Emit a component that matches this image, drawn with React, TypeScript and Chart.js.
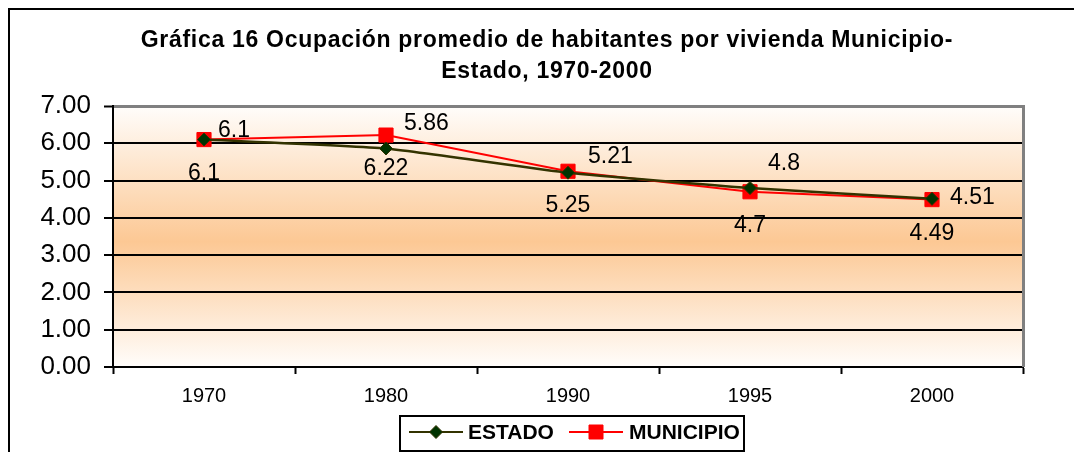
import React, { useEffect, useRef } from 'react';
import { Chart, registerables } from 'chart.js';

Chart.register(...registerables);

const categories = ['1970', '1980', '1990', '1995', '2000'];
const estado = [6.1, 5.86, 5.21, 4.8, 4.51];
const municipio = [6.1, 6.22, 5.25, 4.7, 4.49];
const seriesNames = ['ESTADO', 'MUNICIPIO'];
const yMin = 0;
const yMax = 7;
const yStep = 1;
const titleLines = [
  'Gráfica 16 Ocupación promedio de habitantes por vivienda Municipio-',
  'Estado, 1970-2000',
];

// label placement (pixel offsets relative to each point)
const estadoLabelOffsets = [
  [14, -9],
  [18, -25],
  [20, -16],
  [18, -24],
  [18, -1],
];
const municipioLabelDy = 34;

const FONT = "'Liberation Sans', Arial, sans-serif";
const W = 1074;
const H = 452;

const bgPlugin = {
  id: 'bgGradient',
  beforeDraw(chart: any) {
    const { ctx, chartArea } = chart;
    const { left, top, right, bottom } = chartArea;
    const g = ctx.createLinearGradient(0, top, 0, bottom);
    g.addColorStop(0, '#FFFDFB');
    g.addColorStop(0.52, '#FCC894');
    g.addColorStop(1, '#FFFDFB');
    ctx.save();
    ctx.fillStyle = g;
    ctx.fillRect(left, top, right - left, bottom - top);
    ctx.restore();
  },
  afterDatasetsDraw(chart: any) {
    const { ctx, chartArea } = chart;
    ctx.save();
    ctx.strokeStyle = '#808080';
    ctx.lineWidth = 3;
    ctx.beginPath();
    ctx.moveTo(chartArea.right + 0.5, chartArea.top - 1);
    ctx.lineTo(chartArea.right + 0.5, chartArea.bottom);
    ctx.stroke();
    ctx.restore();
  },
};

const labelPlugin = {
  id: 'dataLabels',
  afterDatasetsDraw(chart: any) {
    const { ctx } = chart;
    ctx.save();
    ctx.font = `23px ${FONT}`;
    ctx.fillStyle = '#000';
    ctx.textBaseline = 'middle';
    const m0 = chart.getDatasetMeta(0);
    const m1 = chart.getDatasetMeta(1);
    m0.data.forEach((pt: any, i: number) => {
      const [dx, dy] = estadoLabelOffsets[i];
      ctx.textAlign = 'left';
      ctx.fillText(String(estado[i]), pt.x + dx, pt.y + dy);
    });
    m1.data.forEach((pt: any, i: number) => {
      ctx.textAlign = 'center';
      ctx.fillText(String(municipio[i]), pt.x, pt.y + municipioLabelDy);
    });
    ctx.restore();
  },
};

const titlePlugin = {
  id: 'customTitle',
  afterDraw(chart: any) {
    const { ctx } = chart;
    ctx.save();
    ctx.font = `bold 23px ${FONT}`;
    try {
      (ctx as any).letterSpacing = '0.7px';
    } catch (e) {}
    ctx.fillStyle = '#000';
    ctx.textAlign = 'center';
    ctx.textBaseline = 'alphabetic';
    ctx.fillText(titleLines[0], 547, 47);
    ctx.fillText(titleLines[1], 547, 78);
    ctx.restore();
  },
};

const legendPlugin = {
  id: 'customLegend',
  afterDraw(chart: any) {
    const { ctx } = chart;
    ctx.save();
    const bx = 400, by = 416, bw = 344, bh = 35;
    ctx.fillStyle = '#FFFFFF';
    ctx.fillRect(bx, by, bw, bh);
    ctx.strokeStyle = '#000';
    ctx.lineWidth = 2;
    ctx.strokeRect(bx, by, bw, bh);
    const cy = 432;
    const items = [
      { x0: 409, x1: 463, tx: 468, ds: chart.data.datasets[0], shape: 'diamond' },
      { x0: 569, x1: 623, tx: 629, ds: chart.data.datasets[1], shape: 'square' },
    ];
    items.forEach((it) => {
      ctx.strokeStyle = it.ds.borderColor;
      ctx.lineWidth = 2;
      ctx.beginPath();
      ctx.moveTo(it.x0, cy);
      ctx.lineTo(it.x1, cy);
      ctx.stroke();
      const mx = (it.x0 + it.x1) / 2;
      ctx.fillStyle = it.ds.pointBackgroundColor;
      ctx.strokeStyle = it.ds.pointBorderColor;
      ctx.lineWidth = 1;
      ctx.beginPath();
      if (it.shape === 'diamond') {
        const r = 6.5;
        ctx.moveTo(mx, cy - r);
        ctx.lineTo(mx + r, cy);
        ctx.lineTo(mx, cy + r);
        ctx.lineTo(mx - r, cy);
        ctx.closePath();
      } else {
        const s = 7;
        ctx.rect(mx - s, cy - s, 2 * s, 2 * s);
      }
      ctx.fill();
      ctx.stroke();
      ctx.fillStyle = '#000';
      ctx.font = `bold 21px ${FONT}`;
      ctx.textAlign = 'left';
      ctx.textBaseline = 'middle';
      ctx.fillText(it.ds.label, it.tx, cy + 1);
    });
    ctx.restore();
  },
};

export default function App() {
  const ref = useRef<HTMLCanvasElement | null>(null);

  useEffect(() => {
    if (!ref.current) return;
    const chart = new Chart(ref.current, {
      type: 'line',
      data: {
        labels: categories,
        datasets: [
          {
            label: seriesNames[0],
            data: estado,
            borderColor: '#333300',
            backgroundColor: '#003300',
            pointBackgroundColor: '#003300',
            pointBorderColor: '#333300',
            borderWidth: 2.5,
            pointStyle: 'rectRot',
            pointRadius: 6.5,
            pointBorderWidth: 1,
            tension: 0.15,
            fill: false,
          },
          {
            label: seriesNames[1],
            data: municipio,
            borderColor: '#FF0000',
            backgroundColor: '#FF0000',
            pointBackgroundColor: '#FF0000',
            pointBorderColor: '#FF0000',
            borderWidth: 2,
            pointStyle: 'rect',
            pointRadius: 10,
            pointBorderWidth: 1,
            tension: 0,
            fill: false,
          },
        ],
      },
      options: {
        responsive: false,
        animation: false,
        layout: { padding: { left: 0, right: 51, top: 106, bottom: 35 } },
        plugins: {
          legend: { display: false },
          title: { display: false },
          tooltip: { enabled: false },
        },
        scales: {
          x: {
            type: 'category',
            offset: true,
            afterFit(scale: any) {
              scale.height = 50;
            },
            grid: {
              offset: true,
              drawOnChartArea: false,
              drawTicks: true,
              tickLength: 7,
              tickColor: '#000',
              tickWidth: 2,
            },
            border: { color: '#000', width: 2 },
            ticks: {
              color: '#000',
              font: { family: FONT, size: 20 },
              padding: 10,
              maxRotation: 0,
            },
          },
          y: {
            min: yMin,
            max: yMax,
            afterFit(scale: any) {
              scale.width = 113;
            },
            grid: {
              color: (c: any) => (c.tick && c.tick.value === yMax ? '#808080' : '#000'),
              lineWidth: (c: any) => (c.tick && c.tick.value === yMax ? 3 : 2),
              drawTicks: true,
              tickLength: 9,
              tickColor: '#000',
              tickWidth: 2,
            },
            border: { color: '#000', width: 2 },
            ticks: {
              stepSize: yStep,
              color: '#000',
              font: { family: FONT, size: 26 },
              padding: 13,
              callback: (v: any) => Number(v).toFixed(2),
            },
          },
        },
      },
      plugins: [bgPlugin, labelPlugin, titlePlugin, legendPlugin],
    } as any);
    return () => chart.destroy();
  }, []);

  return (
    <div
      style={{
        position: 'fixed',
        left: 0,
        top: 0,
        width: W,
        height: H,
        overflow: 'hidden',
        background: '#fff',
      }}
    >
      <div
        style={{
          position: 'absolute',
          left: 8,
          top: 8,
          width: 1200,
          height: 600,
          borderTop: '2px solid #000',
          borderLeft: '2px solid #000',
        }}
      />
      <canvas
        ref={ref}
        width={W}
        height={H}
        style={{ position: 'absolute', left: 0, top: 0, width: W, height: H }}
      />
    </div>
  );
}
